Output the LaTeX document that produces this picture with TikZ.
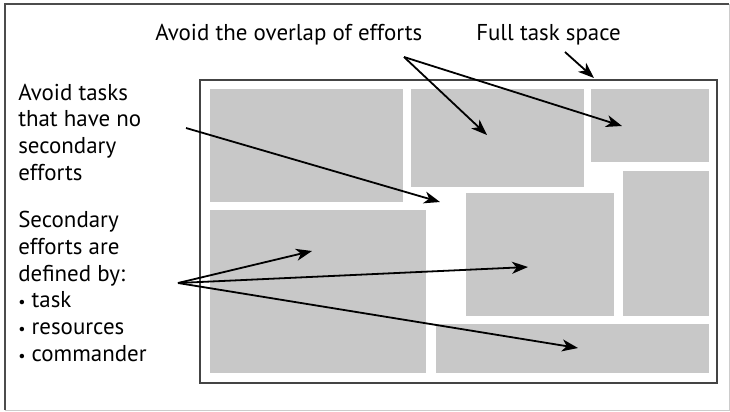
\documentclass[tikz,border=0pt]{standalone}
\usepackage{fontspec}
\setmainfont{PT Sans}
\usetikzlibrary{arrows.meta}

\definecolor{taskgray}{HTML}{C8C8C8}
\definecolor{framegray}{HTML}{444444}

\newcommand{\pointbullet}{{\fontsize{12}{12}\selectfont\textbullet}\ }

\tikzset{
    note/.style={anchor=base west, align=left, inner sep=0pt,
        font=\fontsize{17.2}{20}\selectfont},
    pointer/.style={-{Stealth[length=12pt, width=9pt, inset=3.5pt]}, line width=1.35pt}
}

\begin{document}
\begin{tikzpicture}[x=0.75pt, y=-0.75pt]
    \useasboundingbox (0, 0) rectangle (730, 411);
    % outer frame
    \draw[black!70, line width=0.9pt] (5, 410) -- (5, 4) -- (729, 4);
    \draw[black!20, line width=0.6pt] (729, 4) -- (729, 410) -- (5, 410);
    % full task space
    \draw[framegray, line width=1pt] (200, 80) rectangle (717, 383);
    \foreach \x/\y/\X/\Y in {210/89/403/202, 411/89/584/187, 591/89/709/162,
        623/171/709/316, 466/193/614/316, 210/210/426/373, 436/324/709/373} {
        \fill[taskgray] (\x, \y) rectangle (\X, \Y);
    }
    % labels (base = last line)
    \node[note] (overlap) at (155, 40) {Avoid the overlap of efforts};
    \node[note] (space) at (476, 40) {Full task space};
    \node[note] (nosec) at (18, 180) {Avoid tasks\\that have no\\secondary\\efforts};
    \node[note] (defined) at (18, 361) {Secondary\\efforts are\\defined by:\\
        \pointbullet task\\\pointbullet resources\\\pointbullet commander};
    % arrow ends
    \coordinate (o) at (404, 57);
    \coordinate (s) at (565, 52);
    \coordinate (n) at (186, 128);
    \coordinate (d) at (178, 283);
    \coordinate (t1) at (487, 135);
    \coordinate (t2) at (622, 126);
    \coordinate (t3) at (594, 78);
    \coordinate (t4) at (440, 202);
    \coordinate (t5) at (312, 251);
    \coordinate (t6) at (528, 267);
    \coordinate (t7) at (578, 348);
    % arrows
    \draw[pointer] (o) -- (t1);
    \draw[pointer] (o) -- (t2);
    \draw[pointer] (s) -- (t3);
    \draw[pointer] (n) -- (t4);
    \foreach \t in {t5, t6, t7} {
        \draw[pointer] (d) -- (\t);
    }
\end{tikzpicture}
\end{document}
